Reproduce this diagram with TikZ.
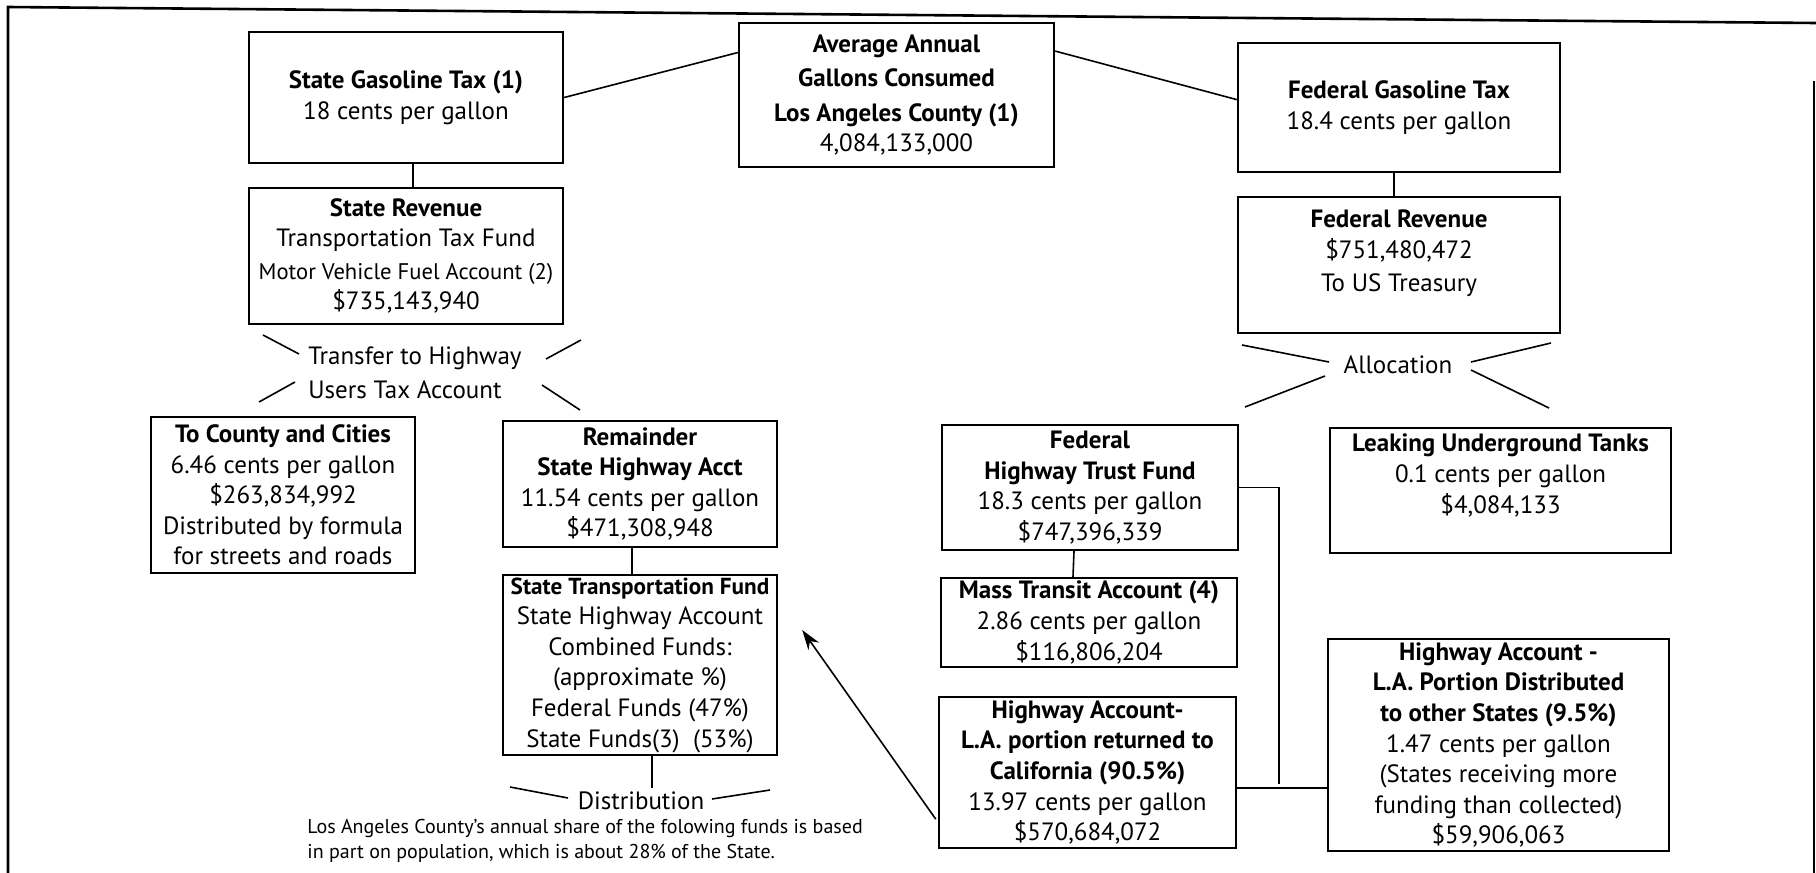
\documentclass[tikz,border=0pt]{standalone}
\usepackage{fontspec}
\setmainfont{PT Sans}
\usetikzlibrary{arrows.meta,calc}
\newcommand{\smalltxt}{\fontsize{11.3}{15.3}\selectfont}
\begin{document}
\begin{tikzpicture}[x=0.5pt,y=-0.5pt,
  box/.style={draw, line width=1.2pt, align=center, inner sep=0pt, font=\fontsize{12.5}{15.3}\selectfont},
  conn/.style={line width=0.8pt},
  lbl/.style={font=\fontsize{12.5}{15.3}\selectfont, inner sep=0pt},
  frame/.style={line width=1.3pt}
]
\useasboundingbox (0,0) rectangle (1816,873);
% frame
\draw[frame] (8,873) -- (8,7) -- (1816,23);
\draw[frame] (1814,81) -- (1814,873);

% boxes
\node[box, minimum width=157pt, minimum height=65.5pt] (sgt) at (406,97.5) {\textbf{State Gasoline Tax (1)}\\18 cents per gallon};
\node[box, minimum width=157.5pt, minimum height=72pt] (avg) at (896.5,95) {\textbf{Average Annual}\\[2pt]\textbf{Gallons Consumed}\\[2pt]\textbf{Los Angeles County (1)}\\4,084,133,000};
\node[box, minimum width=161pt, minimum height=64.5pt] (fgt) at (1399,107.5) {\textbf{Federal Gasoline Tax}\\18.4 cents per gallon};
\node[box, minimum width=157pt, minimum height=68pt] (sr) at (406,256) {\textbf{State Revenue}\\Transportation Tax Fund\\[1pt]{\smalltxt Motor Vehicle Fuel Account (2)}\\\$735,143,940};
\node[box, minimum width=161pt, minimum height=68pt] (fr) at (1399,265) {\textbf{Federal Revenue}\\\$751,480,472\\[1pt]To US Treasury\\[-1pt]\mbox{}};
\node[box, minimum width=132pt, minimum height=78pt] (tcc) at (283,495) {\textbf{To County and Cities}\\6.46 cents per gallon\\\$263,834,992\\Distributed by formula\\for streets and roads};
\node[box, minimum width=137pt, minimum height=63pt] (rem) at (640,484) {\textbf{Remainder}\\\textbf{State Highway Acct}\\11.54 cents per gallon\\\$471,308,948};
\node[box, minimum width=137pt, minimum height=90pt] (stf) at (640,665) {{\bfseries\fontsize{11.6}{15.3}\selectfont State Transportation Fund}\\State Highway Account\\Combined Funds:\\(approximate \%)\\Federal Funds (47\%)\\State Funds(3)\ \ (53\%)};
\node[box, minimum width=148pt, minimum height=62.5pt] (htf) at (1090,487.5) {\textbf{Federal}\\\textbf{Highway Trust Fund}\\18.3 cents per gallon\\\$747,396,339};
\node[box, minimum width=170.5pt, minimum height=62.5pt] (lut) at (1500.5,490.5) {\textbf{Leaking Underground Tanks}\\0.1 cents per gallon\\\$4,084,133\\[1.5pt]\mbox{}};
\node[box, minimum width=148pt, minimum height=44.5pt] (mta) at (1089,622.5) {\textbf{Mass Transit Account (4)}\\2.86 cents per gallon\\\$116,806,204};
\node[box, minimum width=148.5pt, minimum height=75.5pt] (har) at (1087.5,772.5) {\textbf{Highway Account-}\\\textbf{L.A. portion returned to}\\\textbf{California (90.5\%)}\\13.97 cents per gallon\\\$570,684,072};
\node[box, minimum width=170.5pt, minimum height=106pt] (had) at (1498.5,745) {\textbf{Highway Account -}\\\textbf{L.A. Portion Distributed}\\\textbf{to other States (9.5\%)}\\1.47 cents per gallon\\(States receiving more\\funding than collected)\\\$59,906,063};

% labels
\node[lbl, align=left, anchor=west] (xfer) at (308,373) {Transfer to Highway\\[1.5pt]Users Tax Account};
\node[lbl] (alloc) at (1398,365) {Allocation};
\node[lbl] (dist) at (641,801) {Distribution};
\node[lbl, align=left, anchor=north west, font=\fontsize{10}{12.5}\selectfont] (note) at (307,819) {Los Angeles County's annual share of the folowing funds is based\\in part on population, which is about 28\% of the State.};

% connectors
\draw[conn] (sgt.east) -- ($(avg.north west)!0.21!(avg.south west)$);
\draw[conn] ($(avg.north east)!0.2!(avg.south east)$) -- ($(fgt.north west)!0.44!(fgt.south west)$);
\draw[conn] ($(sgt.south)+(7,0)$) -- ($(sr.north)+(7,0)$);
\draw[conn] ($(fgt.south)+(-5,0)$) -- ($(fr.north)+(-5,0)$);
\draw[conn] ($(rem.south)+(-8,0)$) -- ($(stf.north)+(-8,0)$);
\draw[conn] ($(htf.south)+(-16,0)$) -- ($(mta.north)+(-16,0)$);
\coordinate (dtop) at ($(stf.south)+(12,32)$);
\draw[line width=1.2pt] ($(stf.south)+(12,0)$) -- (dtop);
\coordinate (j) at (1279,788);
\draw[conn] (htf.east) -| ($(j)+(0,-4)$);
\draw[line width=1.1pt] (har.east |- j) -- (had.west |- j);
\draw[conn, -{Stealth[length=10pt,width=6.5pt]}] ($(har.south west)+(-2,-30)$) -- ($(stf.east)+(24,-35)$);

% splay strokes
\draw[conn] (263,335) -- (299,354);
\draw[conn] (259,402) -- (295,382);
\draw[conn] (546,359) -- (581,340);
\draw[conn] (542,385) -- (580,410);
\draw[conn] (1242,345) -- (1329,362);
\draw[conn] (1245,407) -- (1325,376);
\draw[conn] (1471,362) -- (1551,343);
\draw[conn] (1471,370) -- (1549,408);
\draw[conn] (510,787) -- (568,798);
\draw[conn] (712,799) -- (770,790);
\end{tikzpicture}
\end{document}
